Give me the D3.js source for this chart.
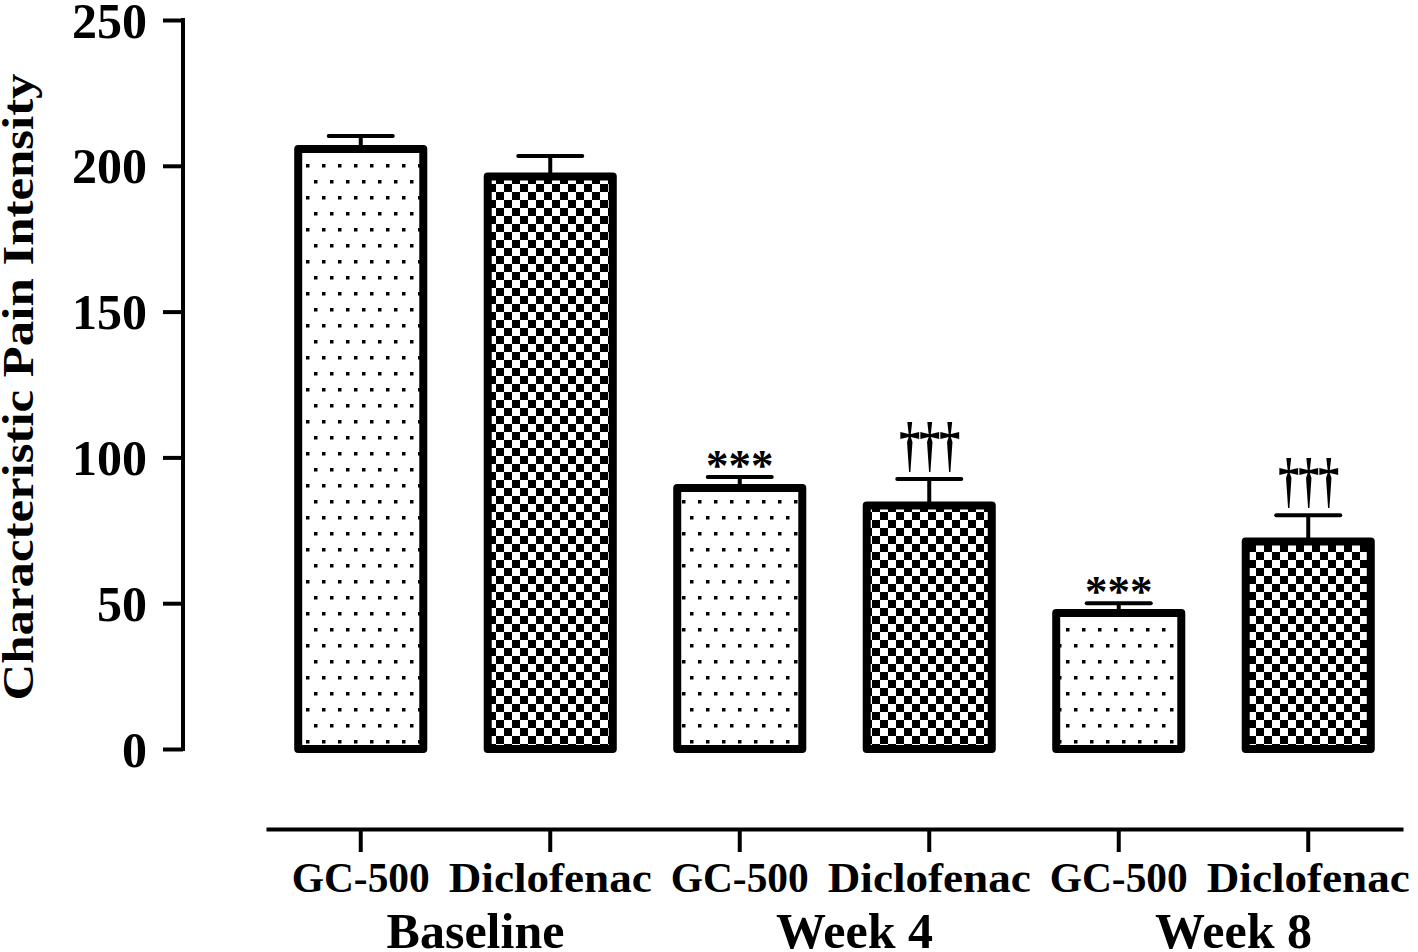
<!DOCTYPE html>
<html><head><meta charset="utf-8">
<script src="https://cdn.jsdelivr.net/npm/d3@7"></script>
<style>body{margin:0;background:#fff}svg{display:block}</style>
</head><body>
<svg id="c" width="1418" height="952"></svg>
<script>
const categories = ["GC-500","Diclofenac","GC-500","Diclofenac","GC-500","Diclofenac"];
const groups = ["Baseline","Week 4","Week 8"];
const means = [205.8, 196.3, 89.5, 83.5, 46.6, 71.2];
const errors = [4.4, 7.1, 3.8, 9.1, 3.4, 9.0];
const patterns = ["dots","check","dots","check","dots","check"];
const marks = ["","","***","†††","***","†††"];
const yTicks = [0,50,100,150,200,250];

const svg = d3.select("#c");
const FONT = "'Liberation Serif','Times New Roman',serif";
const y = d3.scaleLinear().domain([0,250]).range([749,20]);
const x = d3.scaleBand().domain(d3.range(categories.length)).range([266,1403]).paddingInner(0.34).paddingOuter(0.17);

const defs = svg.append("defs");
const pd = defs.append("pattern").attr("id","dots").attr("patternUnits","userSpaceOnUse").attr("width",16).attr("height",32);
pd.append("rect").attr("width",16).attr("height",32).attr("fill","#fff");
pd.append("rect").attr("x",2).attr("y",4).attr("width",3.5).attr("height",3.5).attr("fill","#000");
pd.append("rect").attr("x",10).attr("y",20).attr("width",3.5).attr("height",3.5).attr("fill","#000");
const pc = defs.append("pattern").attr("id","check").attr("patternUnits","userSpaceOnUse").attr("width",16).attr("height",16);
pc.append("rect").attr("width",16).attr("height",16).attr("fill","#fff");
pc.append("rect").attr("x",0).attr("y",0).attr("width",8).attr("height",8).attr("fill","#000");
pc.append("rect").attr("x",8).attr("y",8).attr("width",8).attr("height",8).attr("fill","#000");

// error bars
const eb = svg.append("g");
means.forEach((m,i)=>{
  const cx = x(i)+x.bandwidth()/2;
  eb.append("line").attr("x1",cx).attr("x2",cx).attr("y1",y(m)).attr("y2",y(m+errors[i])).attr("stroke","#000").attr("stroke-width",4);
  eb.append("line").attr("x1",cx-32).attr("x2",cx+32).attr("y1",y(m+errors[i])).attr("y2",y(m+errors[i])).attr("stroke","#000").attr("stroke-width",4).attr("stroke-linecap","round");
});

// bars
svg.append("g").selectAll("rect").data(means).join("rect")
  .attr("x",(d,i)=>x(i)).attr("width",x.bandwidth())
  .attr("y",d=>y(d)).attr("height",d=>y(0)-y(d))
  .attr("fill",(d,i)=>`url(#${patterns[i]})`)
  .attr("stroke","#000").attr("stroke-width",8).attr("stroke-linejoin","round");

// significance marks
svg.append("g").selectAll("g").data(marks).join("g")
  .attr("transform",(d,i)=>{
    const cx = x(i)+x.bandwidth()/2;
    const cy = y(means[i]+errors[i]);
    return d==="***" ? `translate(${cx},${cy+3})` : `translate(${cx},${cy-14}) scale(1,1.45)`;
  })
  .append("text")
  .attr("text-anchor","middle")
  .attr("font-family",FONT).attr("font-weight","bold")
  .attr("font-size",(d)=> d==="***" ? 45 : 42)
  .attr("letter-spacing",(d)=> d==="***" ? 0 : -1)
  .text(d=>d);

// y axis
const ya = svg.append("g").attr("transform","translate(183,0)")
  .call(d3.axisLeft(y).tickValues(yTicks).tickSize(20).tickSizeOuter(0).tickPadding(16));
ya.select(".domain").attr("stroke","#000").attr("stroke-width",4).attr("d","M0,18V751");
ya.selectAll(".tick line").attr("stroke","#000").attr("stroke-width",4);
ya.selectAll(".tick text").attr("font-family",FONT).attr("font-weight","bold").attr("font-size",50).attr("fill","#000").attr("dy","0.34em");

// x axis
const xa = svg.append("g").attr("transform","translate(0,829)")
  .call(d3.axisBottom(x).tickSize(23).tickSizeOuter(0).tickFormat(i=>categories[i]));
xa.select(".domain").attr("stroke","#000").attr("stroke-width",4);
xa.selectAll(".tick line").attr("stroke","#000").attr("stroke-width",4);
xa.selectAll(".tick text").attr("font-family",FONT).attr("font-weight","bold").attr("font-size",43).attr("fill","#000").attr("y",63).attr("dy",0)
  .attr("textLength",(i)=> categories[i]==="Diclofenac" ? 203 : 138).attr("lengthAdjust","spacingAndGlyphs");

// group labels
svg.append("g").selectAll("text").data(groups).join("text")
  .attr("x",(d,i)=>(x(2*i)+x(2*i+1)+x.bandwidth())/2+20)
  .attr("y",948)
  .attr("text-anchor","middle")
  .attr("font-family",FONT).attr("font-weight","bold").attr("font-size",50)
  .text(d=>d);

// y title
svg.append("text")
  .attr("transform","translate(33,387) rotate(-90)")
  .attr("text-anchor","middle")
  .attr("font-family",FONT).attr("font-weight","bold").attr("font-size",45)
  .attr("textLength",627).attr("lengthAdjust","spacingAndGlyphs")
  .text("Characteristic Pain Intensity");
</script>
</body></html>
